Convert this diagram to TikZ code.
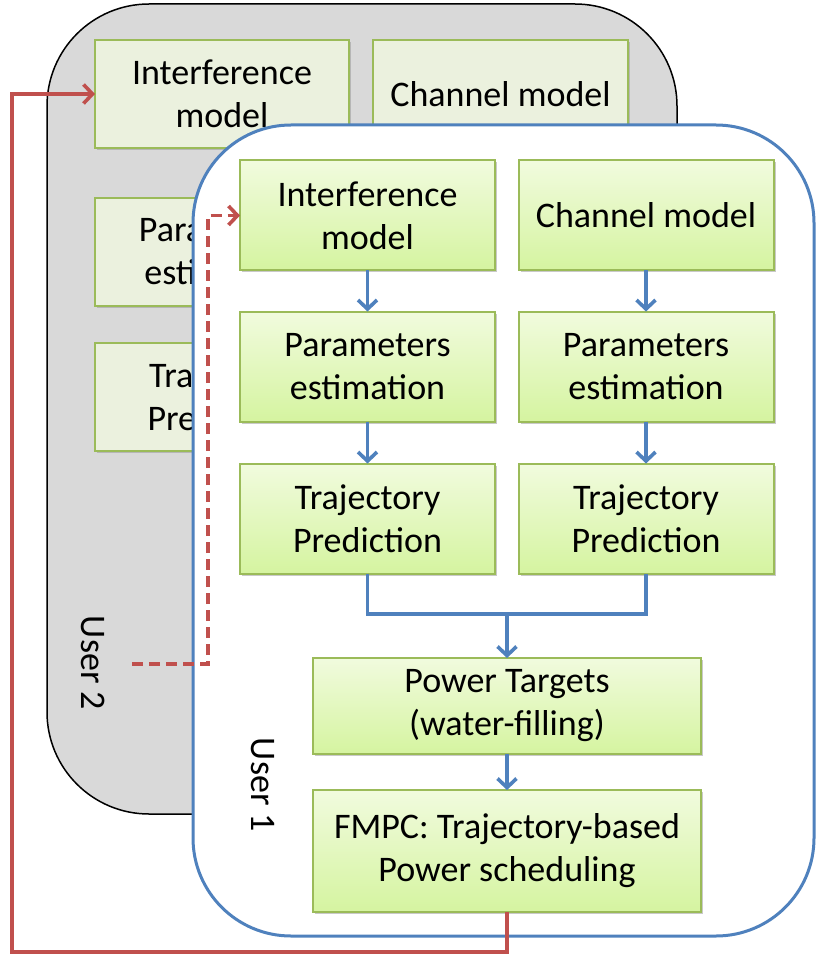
\documentclass[tikz,border=0pt]{standalone}
\usepackage{fontspec}
\setmainfont{Carlito}
\usepackage{xcolor}
\usepackage{tikz}
\usetikzlibrary{arrows.meta,shadows}
\definecolor{panelgray}{HTML}{D9D9D9}
\definecolor{oldbox}{HTML}{EBF1DE}
\definecolor{boxedge}{HTML}{9BBB59}
\definecolor{boxtop}{HTML}{F1FBDE}
\definecolor{boxbot}{HTML}{D5F4A0}
\definecolor{linkblue}{HTML}{4F81BD}
\definecolor{linkred}{HTML}{C0504D}

\begin{document}
\begin{tikzpicture}[x=1pt, y=-1pt,
    every node/.style={font=\fontsize{36}{43}\selectfont, inner sep=0pt, outer sep=0pt},
    ubox/.style={draw=boxedge, line width=2pt, top color=boxtop, bottom color=boxbot,
        align=center, minimum width=255pt, minimum height=110pt,
        drop shadow={shadow xshift=2pt, shadow yshift=-2pt, opacity=0.35, fill=black!60}},
    gbox/.style={draw=boxedge, line width=2pt, fill=oldbox,
        align=center, minimum width=254pt, minimum height=108pt,
        drop shadow={shadow xshift=2pt, shadow yshift=-2pt, opacity=0.3, fill=black!60}},
    blink/.style={draw=linkblue, line width=3.6pt},
    barrow/.style={blink, -{Straight Barb[length=9pt, width=19pt]}},
    rarrow/.style={draw=linkred, line width=3.6pt, -{Straight Barb[length=9pt, width=19pt]}}]
    \useasboundingbox (0,0) rectangle (817,957);

    \draw[fill=panelgray, line width=1.5pt, rounded corners=102pt] (47,4) rectangle (677,814);
    \node[gbox] (gi) at (222,94) {Interference\\model};
    \node[gbox, minimum width=255pt] (gc) at (500.5,94) {Channel model};
    \node[gbox] (gp) at (222,252) {Parameters\\estimation};
    \node[gbox] (gt) at (222,397) {Trajectory\\Prediction};
    \node[rotate=-90] (u2) at (93,663) {User 2};

    \draw[draw=linkblue, fill=white, line width=3pt, rounded corners=98pt] (193,125) rectangle (814,936);
    \node[rotate=-90] (u1) at (263,785) {User 1};

    \node[ubox] (i1) at (367.5,215.5) {Interference\\model};
    \node[ubox] (p1) at (367.5,366.5) {Parameters\\estimation};
    \node[ubox] (t1) at (367.5,518.5) {Trajectory\\Prediction};
    \node[ubox] (c2) at (646,215.5) {Channel model};
    \node[ubox] (p2) at (646,366.5) {Parameters\\estimation};
    \node[ubox] (t2) at (646,518.5) {Trajectory\\Prediction};
    \node[ubox, minimum width=388pt, minimum height=96pt] (pt) at (507,706) {Power Targets\\(water-filling)};
    \node[ubox, minimum width=388pt, minimum height=122pt] (fm) at (507,851) {FMPC: Trajectory-based\\Power scheduling};

    \draw[barrow] (i1) -- (p1);
    \draw[barrow] (p1) -- (t1);
    \draw[barrow] (c2) -- (p2);
    \draw[barrow] (p2) -- (t2);
    \coordinate (mj) at (507,614);
    \draw[blink] (t1.south) -- (t1.south |- mj) -- (t2.south |- mj) -- (t2.south);
    \draw[barrow] (mj) -- (pt);
    \draw[barrow] (pt) -- (fm);

    \coordinate (rc) at (12,952);
    \draw[rarrow] (fm.south) |- (rc) |- (gi.west);
    \coordinate (d0) at (132,664);
    \coordinate (d1) at (208,664);
    \draw[rarrow, dash pattern=on 11pt off 6pt] (d0) -- (d1) |- (i1.west);
\end{tikzpicture}
\end{document}
